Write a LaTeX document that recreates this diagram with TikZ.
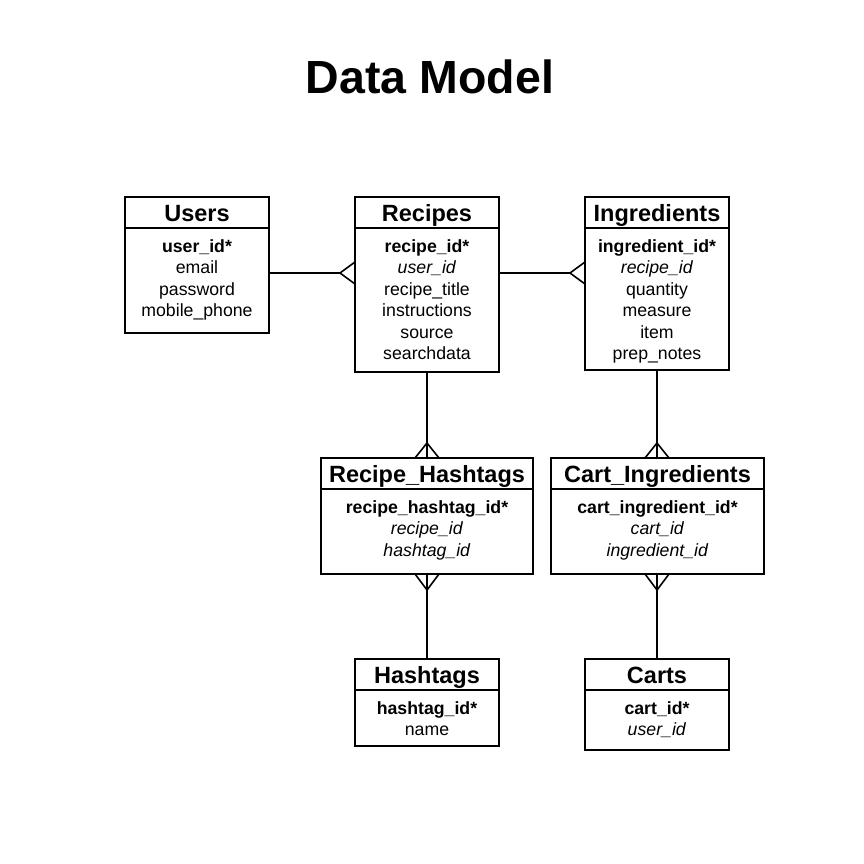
\documentclass[tikz,border=0pt]{standalone}
\usepackage{fontspec}
\setmainfont{Liberation Sans}
\usetikzlibrary{calc}

\tikzset{
  entity/.style={draw, line width=1.4pt, inner sep=0pt, outer sep=0pt, minimum width=144pt, anchor=north west},
  divider/.style={line width=1.4pt},
  head/.style={anchor=base, inner sep=0pt, font=\fontsize{23.5}{28}\selectfont\bfseries},
  field/.style={anchor=base, inner sep=0pt, font=\fontsize{17.7}{21.5}\selectfont},
  link/.style={line width=2.5pt},
  prong/.style={line width=1.6pt},
}

\begin{document}
\begin{tikzpicture}[x=1pt,y=-1pt]
\useasboundingbox (0,0) rectangle (864,864);

\node[font=\fontsize{46.5}{52}\selectfont\bfseries] (title) at (430,77) {Data Model};

% Users
\node[entity, minimum height=136pt] (users) at (125,197) {};
\node[head] (users-h) at ($(users.north)+(0,24)$) {Users};
\draw[divider] ($(users.north west)+(0,31)$) -- ($(users.north east)+(0,31)$);
\foreach \f [count=\i] in {\textbf{user\_id*}, email, password, mobile\_phone}
  \node[field] (users-\i) at ($(users.north)+(0,33.5+21.5*\i)$) {\f};

% Recipes
\node[entity, minimum height=175pt] (recipes) at (355,197) {};
\node[head] (recipes-h) at ($(recipes.north)+(0,24)$) {Recipes};
\draw[divider] ($(recipes.north west)+(0,31)$) -- ($(recipes.north east)+(0,31)$);
\foreach \f [count=\i] in {\textbf{recipe\_id*}, \textit{user\_id}, recipe\_title, instructions, source, searchdata}
  \node[field] (recipes-\i) at ($(recipes.north)+(0,33.5+21.5*\i)$) {\f};

% Ingredients
\node[entity, minimum height=173pt] (ingredients) at (585,197) {};
\node[head] (ingredients-h) at ($(ingredients.north)+(0,24)$) {Ingredients};
\draw[divider] ($(ingredients.north west)+(0,31)$) -- ($(ingredients.north east)+(0,31)$);
\foreach \f [count=\i] in {\textbf{ingredient\_id*}, \textit{recipe\_id}, quantity, measure, item, prep\_notes}
  \node[field] (ingredients-\i) at ($(ingredients.north)+(0,33.5+21.5*\i)$) {\f};

% Recipe_Hashtags
\node[entity, minimum width=212pt, minimum height=116pt] (rechash) at (321,458) {};
\node[head] (rechash-h) at ($(rechash.north)+(0,24)$) {Recipe\_Hashtags};
\draw[divider] ($(rechash.north west)+(0,31)$) -- ($(rechash.north east)+(0,31)$);
\foreach \f [count=\i] in {\textbf{recipe\_hashtag\_id*}, \textit{recipe\_id}, \textit{hashtag\_id}}
  \node[field] (rechash-\i) at ($(rechash.north)+(0,33.5+21.5*\i)$) {\f};

% Cart_Ingredients
\node[entity, minimum width=213pt, minimum height=116pt] (cartingr) at (551,458) {};
\node[head] (cartingr-h) at ($(cartingr.north)+(0,24)$) {Cart\_Ingredients};
\draw[divider] ($(cartingr.north west)+(0,31)$) -- ($(cartingr.north east)+(0,31)$);
\foreach \f [count=\i] in {\textbf{cart\_ingredient\_id*}, \textit{cart\_id}, \textit{ingredient\_id}}
  \node[field] (cartingr-\i) at ($(cartingr.north)+(0,33.5+21.5*\i)$) {\f};

% Hashtags
\node[entity, minimum height=87pt] (hashtags) at (355,659) {};
\node[head] (hashtags-h) at ($(hashtags.north)+(0,24)$) {Hashtags};
\draw[divider] ($(hashtags.north west)+(0,31)$) -- ($(hashtags.north east)+(0,31)$);
\foreach \f [count=\i] in {\textbf{hashtag\_id*}, name}
  \node[field] (hashtags-\i) at ($(hashtags.north)+(0,33.5+21.5*\i)$) {\f};

% Carts
\node[entity, minimum height=91pt] (carts) at (585,659) {};
\node[head] (carts-h) at ($(carts.north)+(0,24)$) {Carts};
\draw[divider] ($(carts.north west)+(0,31)$) -- ($(carts.north east)+(0,31)$);
\foreach \f [count=\i] in {\textbf{cart\_id*}, \textit{user\_id}}
  \node[field] (carts-\i) at ($(carts.north)+(0,33.5+21.5*\i)$) {\f};

% one-to-many links, crow's foot on the many side
\coordinate (users-end) at ($(recipes.north west)+(0,76)$);
\draw[link] (users.east |- users-end) -- ($(users-end)+(-15,0)$);
\draw[prong] ($(users-end)+(-15,0)$) -- ($(users-end)+(0,-11)$) ($(users-end)+(-15,0)$) -- ($(users-end)+(0,11)$);

\coordinate (recipes-end) at ($(ingredients.north west)+(0,76)$);
\draw[link] (recipes.east |- recipes-end) -- ($(recipes-end)+(-15,0)$);
\draw[prong] ($(recipes-end)+(-15,0)$) -- ($(recipes-end)+(0,-11)$) ($(recipes-end)+(-15,0)$) -- ($(recipes-end)+(0,11)$);

\draw[link] (recipes.south) -- (rechash.north);
\draw[prong] ($(rechash.north)+(0,-15)$) -- ($(rechash.north)+(-12,0)$) ($(rechash.north)+(0,-15)$) -- ($(rechash.north)+(12,0)$);

\draw[link] (ingredients.south) -- (ingredients.south |- cartingr.north);
\draw[prong] ($(ingredients.south |- cartingr.north)+(0,-15)$) -- ($(ingredients.south |- cartingr.north)+(-12,0)$) ($(ingredients.south |- cartingr.north)+(0,-15)$) -- ($(ingredients.south |- cartingr.north)+(12,0)$);

\draw[link] (rechash.south) -- (hashtags.north);
\draw[prong] ($(rechash.south)+(0,16)$) -- ($(rechash.south)+(-12,0)$) ($(rechash.south)+(0,16)$) -- ($(rechash.south)+(12,0)$);

\draw[link] (carts.north |- cartingr.south) -- (carts.north);
\draw[prong] ($(carts.north |- cartingr.south)+(0,16)$) -- ($(carts.north |- cartingr.south)+(-12,0)$) ($(carts.north |- cartingr.south)+(0,16)$) -- ($(carts.north |- cartingr.south)+(12,0)$);

\end{tikzpicture}
\end{document}
